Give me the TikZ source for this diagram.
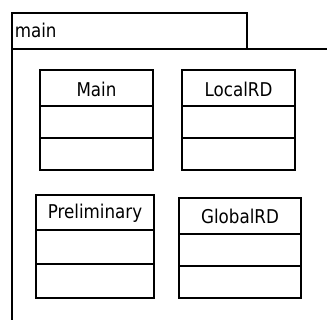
\documentclass[tikz,border=0pt]{standalone}
\usepackage{fontspec}
\setmainfont{DejaVu Sans}
\begin{document}
\begin{tikzpicture}[x=1pt,y=-1pt,line width=1.8pt,
  lbl/.style={font=\fontsize{19}{21}\selectfont, inner sep=0pt, xscale=0.88}]
\useasboundingbox (0,0) rectangle (327,320);
\fill[white] (0,0) rectangle (327,320);
\begin{scope}
\clip (0,0) rectangle (327,320);
% package
\draw (12,13) rectangle (247,49);
\draw (327,49) -- (12,49) -- (12,322);
\node[lbl, anchor=base west] (pkg) at (14,38) {main};
% Main
\draw (40,70) rectangle (153,170);
\draw (40,106) -- (153,106) (40,138) -- (153,138);
\node[lbl] (cMain) at (96.5,89) {Main};
% LocalRD
\draw (182,70) rectangle (295,170);
\draw (182,106) -- (295,106) (182,138) -- (295,138);
\node[lbl] (cLocal) at (238.5,89) {LocalRD};
% Preliminary
\draw (36,195) rectangle (154,298);
\draw (36,230) -- (154,230) (36,264) -- (154,264);
\node[lbl] (cPre) at (95,213) {Preliminary};
% GlobalRD
\draw (179,198) rectangle (301,298);
\draw (179,234) -- (301,234) (179,266) -- (301,266);
\node[lbl] (cGlob) at (240,216) {GlobalRD};
\end{scope}
\end{tikzpicture}
\end{document}
